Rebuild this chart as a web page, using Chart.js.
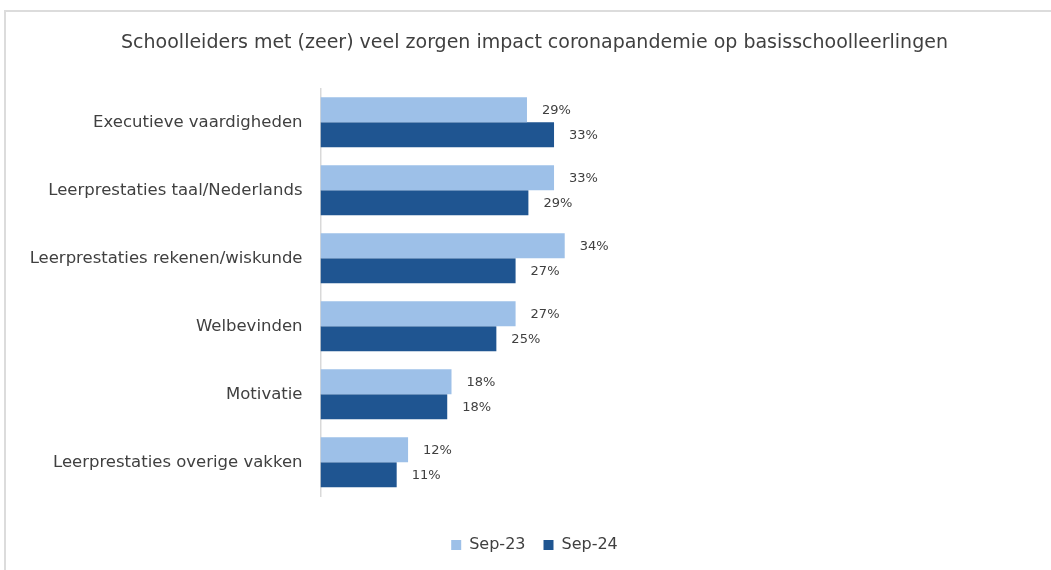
<!DOCTYPE html>
<html>
<head>
<meta charset="utf-8">
<script src="https://cdn.jsdelivr.net/npm/chart.js@4"></script>
<style>
  html, body { margin: 0; padding: 0; background: #fff; overflow: hidden; }
  #frame { position: absolute; left: 4px; top: 10px; width: 1100px; height: 600px; border-style: solid; border-color: #dcdcdc; border-width: 2px 0 0 2px; box-sizing: border-box; }
  #chart { position: absolute; left: 0; top: 0; }
</style>
</head>
<body>
<div id="frame"></div>
<canvas id="chart" width="1051" height="570"></canvas>
<script>
// Categories and values (percent of school leaders)
const categories = [
    'Executieve vaardigheden',
    'Leerprestaties taal/Nederlands',
    'Leerprestaties rekenen/wiskunde',
    'Welbevinden',
    'Motivatie',
    'Leerprestaties overige vakken'
];
const seriesNames = ['Sep-23', 'Sep-24'];
const sep23 = [29.0, 32.8, 34.3, 27.4, 18.4, 12.3];
const sep24 = [32.8, 29.2, 27.4, 24.7, 17.8, 10.7];

const textColor = '#404040';

// Value labels to the right of every bar
const barLabels = {
    id: 'barLabels',
    afterDatasetsDraw(chart) {
        const ctx = chart.ctx;
        ctx.save();
        ctx.font = '13px "DejaVu Sans"';
        ctx.fillStyle = textColor;
        ctx.textBaseline = 'middle';
        ctx.textAlign = 'left';
        chart.data.datasets.forEach((ds, i) => {
            chart.getDatasetMeta(i).data.forEach((bar, j) => {
                ctx.fillText(Math.round(ds.data[j]) + '%', bar.x + 15, bar.y + 0.5);
            });
        });
        ctx.restore();
    }
};

new Chart(document.getElementById('chart').getContext('2d'), {
    type: 'bar',
    data: {
        labels: categories,
        datasets: [
            { label: seriesNames[0], data: sep23, backgroundColor: '#9dc0e8' },
            { label: seriesNames[1], data: sep24, backgroundColor: '#1f5591' }
        ]
    },
    options: {
        indexAxis: 'y',
        responsive: false,
        animation: false,
        categoryPercentage: 0.735,
        barPercentage: 1,
        layout: { padding: { left: 18, right: 0, top: 0, bottom: 7 } },
        scales: {
            x: {
                min: 0,
                max: 102.6,
                ticks: { display: false },
                grid: { display: false, drawTicks: false },
                border: { display: false },
                afterFit(scale) { scale.height = 22.7; }
            },
            y: {
                grid: { display: false, drawTicks: false },
                border: { color: '#d9d9d9', width: 1.5 },
                ticks: {
                    color: textColor,
                    padding: 18,
                    font: { family: '"DejaVu Sans"', size: 16.5 }
                },
                afterFit(scale) { scale.width = 302.5; }
            }
        },
        plugins: {
            title: {
                display: true,
                text: 'Schoolleiders met (zeer) veel zorgen impact coronapandemie op basisschoolleerlingen',
                color: textColor,
                font: { family: '"DejaVu Sans"', size: 19, weight: 'normal' },
                padding: { top: 32.1, bottom: 33.4 }
            },
            legend: {
                position: 'bottom',
                labels: {
                    boxWidth: 10,
                    boxHeight: 10,
                    padding: 18,
                    color: textColor,
                    font: { family: '"DejaVu Sans"', size: 16 }
                }
            },
            tooltip: { enabled: false }
        }
    },
    plugins: [barLabels]
});
</script>
</body>
</html>
